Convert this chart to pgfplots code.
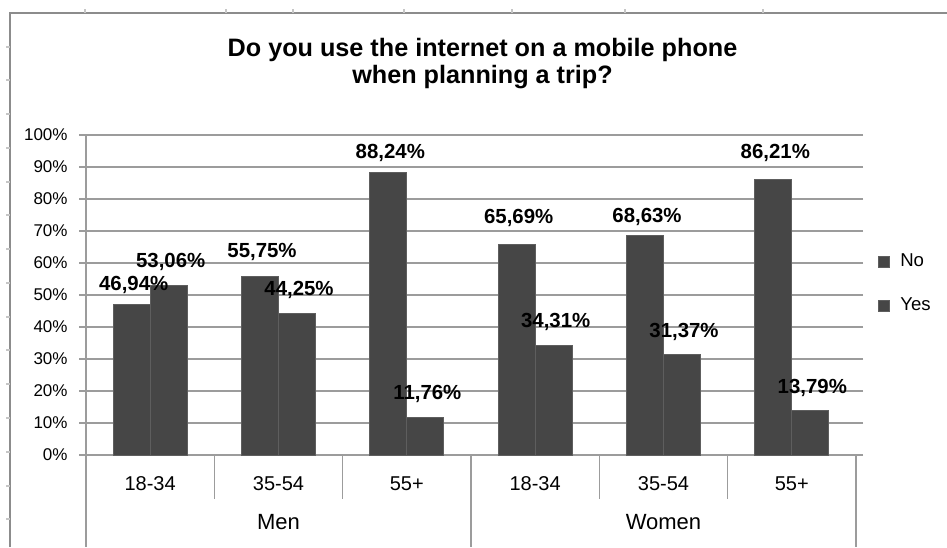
\documentclass[border=0pt]{standalone}
\usepackage{pgfplots}
\pgfplotsset{compat=1.18}
\usepackage{pgfplotstable}
\usepackage{fontspec}
\setmainfont{Liberation Sans}
\definecolor{barfill}{HTML}{464646}
\definecolor{baredge}{HTML}{5E5E5E}
\definecolor{gridc}{HTML}{9C9C9C}
\definecolor{framec}{HTML}{8C8C8C}

\pgfplotstableread{
x no yes dyn dyy
0 46.94 53.06 -1.5 0
1 55.75 44.25 1 0
2 88.24 11.76 -1.5 0
3 65.69 34.31 2 0
4 68.63 31.37 -2.5 0
5 86.21 13.79 1.5 0
}\data

\begin{document}
\begin{tikzpicture}
\useasboundingbox (0pt,0pt) rectangle (473.5pt,273.5pt);
% outer frame (spreadsheet remnants)
\draw[framec, line width=1pt] (5pt,0pt) -- (5pt,267pt) -- (473.5pt,267pt);
\foreach \p in {47,80,114,148,182,215,249,283,317,350,384,418,452,486,519}
  \draw[framec!50, line width=0.6pt] (3pt,{(273.5-\p/2)*1pt}) -- (5pt,{(273.5-\p/2)*1pt});
\foreach \p in {85,226,293,404,512,625,763}
  \draw[framec!50, line width=0.6pt] ({\p/2*1pt},267pt) -- ({\p/2*1pt},269pt);
% title
\node[align=center, font=\bfseries\fontsize{12.6}{13.5}\selectfont] at (241.25pt,241.75pt)
  {Do you use the internet on a mobile phone\\when planning a trip?};
\begin{axis}[
  at={(43pt,46pt)}, anchor=south west,
  scale only axis, width=385pt, height=160pt,
  xmin=-0.5, xmax=5.5, ymin=0, ymax=100,
  clip=false,
  ybar=0pt, bar width=18.5pt,
  axis line style={draw=none},
  ymajorgrids, grid style={gridc, line width=0.8pt},
  ytick={0,10,...,100},
  yticklabel={\pgfmathprintnumber{\tick}\%},
  /pgf/number format/assume math mode=true,
  tick align=outside,
  major tick length=3.5pt,
  ytick style={gridc, line width=0.8pt},
  xtick style={draw=none},
  xtick={0,...,5},
  xticklabels={18-34,35-54,55+,18-34,35-54,55+},
  yticklabel style={font=\fontsize{8.5}{10}\selectfont, xshift=-2.2pt},
  xticklabel style={font=\fontsize{10}{12}\selectfont, yshift=-3.5pt, text height=7.2pt, text depth=0pt},
  nodes near coords={\pgfmathprintnumber[fixed,fixed zerofill,precision=2,use comma]{\pgfplotspointmeta}\%},
  nodes near coords style={font=\bfseries\fontsize{10.2}{12}\selectfont, anchor=center, xshift=1pt, yshift={(11.5+\dy)*1pt}},
  legend style={at={(1.02,0.535)}, anchor=west, draw=none, fill=none,
    font=\fontsize{9.3}{11}\selectfont, row sep=10pt},
  legend cell align=left,
  legend image code/.code={\draw[#1, draw=baredge, line width=0.5pt] (0pt,-2.75pt) rectangle (5.5pt,2.75pt); \path[draw=none, fill=none] (0pt,0pt) -- (9pt,0pt);},
]
\addplot[fill=barfill, draw=baredge, line width=0.5pt,
  visualization depends on={\thisrow{dyn} \as \dy}]
  table[x=x, y=no] {\data};
\addlegendentry{No}
\addplot[fill=barfill, draw=baredge, line width=0.5pt,
  visualization depends on={\thisrow{dyy} \as \dy}]
  table[x=x, y=yes] {\data};
\addlegendentry{Yes}
% category separators
\draw[gridc, line width=0.8pt] (axis cs:-0.5,100) -- (axis cs:-0.5,0) -- ++(0pt,-46pt);
\draw[gridc, line width=0.8pt] (axis cs:2.5,0) -- ++(0pt,-46pt);
\draw[gridc, line width=0.8pt] (axis cs:5.5,0) -- ++(0pt,-46pt);
\draw[gridc, line width=0.8pt] (axis cs:0.5,0) -- ++(0pt,-22pt);
\draw[gridc, line width=0.8pt] (axis cs:1.5,0) -- ++(0pt,-22pt);
\draw[gridc, line width=0.8pt] (axis cs:3.5,0) -- ++(0pt,-22pt);
\draw[gridc, line width=0.8pt] (axis cs:4.5,0) -- ++(0pt,-22pt);
\node[font=\fontsize{11}{13}\selectfont, yshift=-33.5pt] at (axis cs:1,0) {Men};
\node[font=\fontsize{11}{13}\selectfont, yshift=-33.5pt] at (axis cs:4,0) {Women};
\end{axis}
\end{tikzpicture}
\end{document}
